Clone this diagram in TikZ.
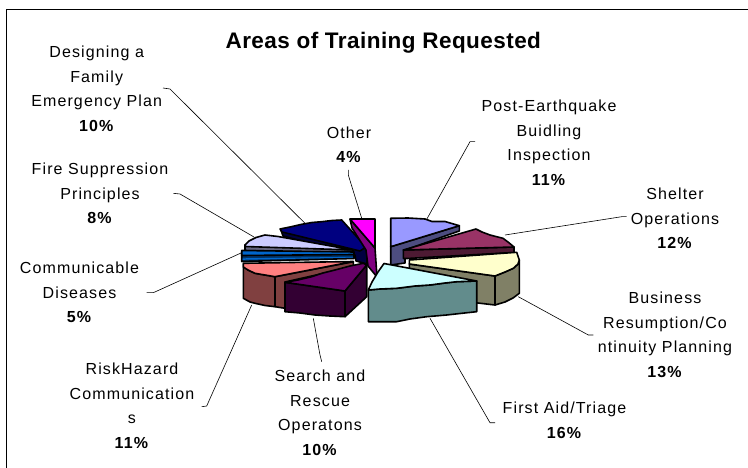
\documentclass[tikz,border=0pt]{standalone}
\usepackage{fontspec}
\setmainfont{Liberation Sans}
\newfontfamily\lblfont[LetterSpace=7]{Liberation Sans}
\newfontfamily\ttlfont[LetterSpace=2]{Liberation Sans}
\definecolor{peTop}{HTML}{9999FF}\definecolor{peSide}{HTML}{4D4D80}
\definecolor{shTop}{HTML}{993366}\definecolor{shSide}{HTML}{4D1A33}
\definecolor{buTop}{HTML}{FFFFCC}\definecolor{buSide}{HTML}{808066}
\definecolor{faTop}{HTML}{CCFFFF}\definecolor{faSide}{HTML}{628C8C}
\definecolor{srTop}{HTML}{660066}\definecolor{srSide}{HTML}{330033}
\definecolor{rhTop}{HTML}{FF8080}\definecolor{rhSide}{HTML}{804040}
\definecolor{cdTop}{HTML}{0066CC}\definecolor{cdSide}{HTML}{003366}
\definecolor{fsTop}{HTML}{CCCCFF}\definecolor{fsSide}{HTML}{666680}
\definecolor{dfTop}{HTML}{000080}\definecolor{dfSide}{HTML}{000040}
\definecolor{otTop}{HTML}{FF00FF}\definecolor{otSide}{HTML}{800080}
\begin{document}
\begin{tikzpicture}[x=1pt,y=-1pt,
  slice/.style={draw=black, line width=1.6pt, line join=round},
  lbl/.style={font=\lblfont\fontsize{16}{24.5}\selectfont, align=center, anchor=north, inner sep=0pt},
  lead/.style={draw=black, line width=0.6pt}]
\useasboundingbox (0,0) rectangle (748,468);
% frame
\draw[line width=1.3pt] (6.5,470) -- (6.5,9.3) -- (750,9.3);
% title
\node[font=\ttlfont\bfseries\fontsize{22.5}{26}\selectfont, anchor=base, inner sep=0pt] (title) at (383.3,48.3) {Areas of Training Requested};

% ---- Designing a Family Emergency Plan (navy)
\fill[dfSide,slice] (281,230) -- (283,236) -- (355,255) -- (356,261) -- (367,264) -- (367,247) -- cycle;
\fill[dfTop,slice] (280,229) -- (290,227) -- (301.7,224.3) -- (312,222.5) -- (321.7,221.7) -- (332,220.5) -- (341.7,220) -- (366,247) -- (360,251) -- (282,232) -- cycle;
% ---- Other (magenta)
\fill[otSide,slice] (350,219) -- (375,248) -- (377,277) -- (368,266) -- (366,250) -- (352,228) -- cycle;
\fill[otTop,slice] (350,219) -- (375,219) -- (375,248) -- cycle;
% ---- Post-Earthquake (light violet)
\fill[peSide,slice] (390.7,246.7) -- (459.3,225.7) -- (459.3,231) -- (405,250) -- (405,263) -- (390.7,265) -- cycle;
\fill[peTop,slice] (390.7,218.3) -- (408,218) -- (425,219) -- (432,221.5) -- (445,221.5) -- (459.3,225.7) -- (390.7,246.7) -- cycle;
% ---- Shelter Operations (maroon)
\fill[shSide,slice] (403.3,250) -- (514,247) -- (514,252.5) -- (407,258.5) -- (403.3,258.5) -- cycle;
\fill[shTop,slice] (403.3,250) -- (476,229) -- (482,232) -- (490,235) -- (503,238.3) -- (508,242) -- (514,247) -- cycle;
% ---- Fire Suppression (lavender)
\fill[fsSide,slice] (245,245) -- (353.3,250) -- (353.3,253.5) -- (245,250.5) -- cycle;
\fill[fsTop,slice] (245,245) -- (249,241) -- (256,237.5) -- (265,235) -- (278,236.5) -- (353.3,250) -- (245,246.5) -- cycle;
% ---- Communicable Diseases (blue)
\fill[cdSide,slice] (241.7,252) -- (354,252.3) -- (354,258.5) -- (241.7,261.5) -- cycle;
\fill[cdTop,slice] (241.7,250.5) -- (354,252) -- (354,254.5) -- (241.7,255.5) -- cycle;
\fill[cdTop] (242.5,258.3) -- (353,256.8) -- (353,257.6) -- (242.5,259.8) -- cycle;
% ---- Business Resumption (yellow)
\fill[buSide,slice] (409.3,264) -- (495,276) -- (495,305) -- (466.7,301.7) -- (409.3,270) -- cycle;
\fill[buSide,slice] (495,276) -- (505,272) -- (513.3,268.3) -- (518,264) -- (519.3,260) -- (519.3,293.3) -- (513,298) -- (505,302) -- (495,305) -- cycle;
\fill[buTop,slice] (409.3,260) -- (516.7,252.3) -- (519.3,260) -- (518,264) -- (513.3,268.3) -- (505,272) -- (495,276) -- (409.3,264) -- cycle;
% ---- Risk Hazard Communications (salmon)
\fill[rhSide,slice] (243.3,264) -- (243.3,298.3) -- (250,302) -- (255,303.3) -- (265,305.5) -- (275,306.7) -- (275,276.7) -- (265,275) -- (255,273.3) -- (248,270) -- cycle;
\fill[rhSide,slice] (275,276.7) -- (353.3,261.7) -- (353.3,266.7) -- (285,282) -- (285,308.3) -- (275,306.7) -- cycle;
\fill[rhTop,slice] (243.3,263.3) -- (353.3,261.5) -- (275,276.7) -- (265,275) -- (255,273.3) -- (248,270) -- (243.3,267) -- cycle;
% ---- Search and Rescue (purple)
\fill[srSide,slice] (285,282.3) -- (345,291) -- (345,316.7) -- (330,316) -- (315,315) -- (300,313) -- (285,311.7) -- cycle;
\fill[srSide,slice] (345,291) -- (366.7,265) -- (366.7,296.7) -- (345,316.7) -- cycle;
\fill[srTop,slice] (285,282.3) -- (298,280) -- (311.7,276.7) -- (323,273) -- (335,270) -- (350,266) -- (363.3,263.3) -- (366.7,265) -- (345,291) -- cycle;
% ---- First Aid/Triage (light cyan)
\fill[faSide,slice] (368.3,290) -- (380,289) -- (396.7,288.3) -- (415,286) -- (430,285) -- (445,283) -- (456.7,281.7) -- (476.7,281) -- (476.7,311.7) -- (460,313.5) -- (446.7,315) -- (426.7,316.7) -- (410,319) -- (396.7,321.7) -- (368.3,321.7) -- cycle;
\fill[faTop,slice] (384,263.5) -- (476.7,281) -- (456.7,281.7) -- (445,283) -- (430,285) -- (415,286) -- (396.7,288.3) -- (380,289) -- (368.3,290) -- (372,282) -- (378,272) -- cycle;

% ---- labels
\node[lbl] (lDF) at (96.7,46) {Designing a\\Family\\Emergency Plan\\\textbf{10\%}};
\node[lbl] (lOT) at (349,126.7) {Other\\\textbf{4\%}};
\node[lbl] (lFS) at (100,163) {Fire Suppression\\Principles\\\textbf{8\%}};
\node[lbl] (lPE) at (549,100) {Post-Earthquake\\Buidling\\Inspection\\\textbf{11\%}};
\node[lbl] (lSH) at (675,188) {Shelter\\Operations\\\textbf{12\%}};
\node[lbl] (lCD) at (79.5,262) {Communicable\\Diseases\\\textbf{5\%}};
\node[lbl] (lRH) at (132,363) {RiskHazard\\Communication\\s\\\textbf{11\%}};
\node[lbl] (lSR) at (320,370) {Search and\\Rescue\\Operatons\\\textbf{10\%}};
\node[lbl] (lBU) at (665,292) {Business\\Resumption/Co\\ntinuity Planning\\\textbf{13\%}};
\node[lbl] (lFA) at (564.5,402) {First Aid/Triage\\\textbf{16\%}};

% ---- leader lines
\coordinate (sDF) at (163,88); \coordinate (eDF) at (170,89); \coordinate (pDF) at (305,223.3);
\coordinate (sOT) at (348.3,170); \coordinate (eOT) at (348.3,175); \coordinate (pOT) at (361.7,218.3);
\coordinate (sFS) at (173.3,193.3); \coordinate (eFS) at (180,194); \coordinate (pFS) at (254,237);
\coordinate (sCD) at (146.7,292.7); \coordinate (eCD) at (153.3,292.7); \coordinate (pCD) at (241.7,252.7);
\coordinate (sRH) at (201.7,406.7); \coordinate (eRH) at (206.7,406); \coordinate (pRH) at (251.7,305);
\coordinate (sSR) at (321.7,361.7); \coordinate (eSR) at (320,355); \coordinate (pSR) at (313.3,318.3);
\coordinate (sFA) at (495,422.7); \coordinate (eFA) at (490,422.7); \coordinate (pFA) at (430,318.3);
\coordinate (sBU) at (593.3,335); \coordinate (eBU) at (588.3,335); \coordinate (pBU) at (518.3,296.7);
\coordinate (sSH) at (626.7,216.7); \coordinate (eSH) at (621.7,216.7); \coordinate (pSH) at (505,235);
\coordinate (sPE) at (475,141.7); \coordinate (ePE) at (470,141.7); \coordinate (pPE) at (426.7,219.3);
\draw[lead] (sDF) -- (eDF) -- (pDF);
\draw[lead] (sOT) -- (eOT) -- (pOT);
\draw[lead] (sFS) -- (eFS) -- (pFS);
\draw[lead] (sCD) -- (eCD) -- (pCD);
\draw[lead] (sRH) -- (eRH) -- (pRH);
\draw[lead] (sSR) -- (eSR) -- (pSR);
\draw[lead] (sFA) -- (eFA) -- (pFA);
\draw[lead] (sBU) -- (eBU) -- (pBU);
\draw[lead] (sSH) -- (eSH) -- (pSH);
\draw[lead] (sPE) -- (ePE) -- (pPE);
\end{tikzpicture}
\end{document}
